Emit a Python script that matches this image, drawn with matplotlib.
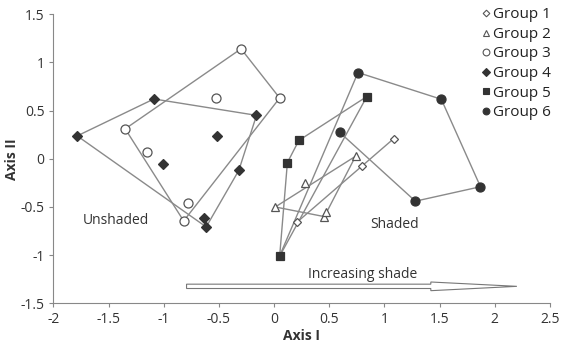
import matplotlib.pyplot as plt
from matplotlib.lines import Line2D

plt.rcParams['font.family'] = ['Open Sans', 'DejaVu Sans']

# points per group
g1_x = [0.21, 0.80, 1.085]
g1_y = [-0.655, -0.075, 0.21]
g2_x = [0.01, 0.276, 0.738, 0.455, 0.47]
g2_y = [-0.50, -0.25, 0.026, -0.60, -0.55]
g3_x = [-1.35, -0.30, 0.05, -0.53, -1.15, -0.78, -0.82]
g3_y = [0.31, 1.14, 0.63, 0.635, 0.07, -0.46, -0.645]
g4_x = [-1.785, -1.09, -0.16, -0.52, -1.01, -0.32, -0.637, -0.616]
g4_y = [0.237, 0.62, 0.45, 0.24, -0.057, -0.12, -0.614, -0.707]
g5_x = [0.84, 0.224, 0.12, 0.05]
g5_y = [0.645, 0.19, -0.04, -1.01]
g6_x = [0.76, 1.515, 0.593, 1.87, 1.28]
g6_y = [0.894, 0.617, 0.275, -0.29, -0.44]

# outline paths drawn round each group
h1_x = [0.21, 1.085]
h1_y = [-0.655, 0.21]
h2_x = [0.01, 0.738, 0.455, 0.01]
h2_y = [-0.50, 0.026, -0.60, -0.50]
h3_x = [-1.35, -0.30, 0.05, -0.82, -1.35]
h3_y = [0.31, 1.14, 0.63, -0.645, 0.31]
h4_x = [-1.785, -1.09, -0.16, -0.32, -0.616, -1.785]
h4_y = [0.237, 0.62, 0.45, -0.12, -0.707, 0.237]
h5_x = [0.05, 0.12, 0.224, 0.84, 0.05]
h5_y = [-1.01, -0.04, 0.19, 0.645, -1.01]
h6_x = [0.06, 0.76, 1.515, 1.87, 1.28, 0.593]
h6_y = [-0.98, 0.894, 0.617, -0.29, -0.44, 0.275]

labels = ['Group 1', 'Group 2', 'Group 3', 'Group 4', 'Group 5', 'Group 6']
xticks = [-2, -1.5, -1, -0.5, 0, 0.5, 1, 1.5, 2, 2.5]
yticks = [-1.5, -1, -0.5, 0, 0.5, 1, 1.5]

fig = plt.figure(figsize=(5.72, 3.44), dpi=100)
ax = fig.add_axes([0.0935, 0.118, 0.868, 0.841])

lc = '#8a8a8a'
for hx, hy in [(h1_x, h1_y), (h2_x, h2_y), (h3_x, h3_y), (h4_x, h4_y), (h5_x, h5_y), (h6_x, h6_y)]:
    ax.plot(hx, hy, color=lc, lw=1.0, zorder=1)

dark = '#333333'
opn = '#555555'
groups = [(g1_x, g1_y, 'D', 'white', opn, 4.5),
          (g2_x, g2_y, '^', 'white', opn, 6),
          (g3_x, g3_y, 'o', 'white', opn, 6.5),
          (g4_x, g4_y, 'D', dark, dark, 5),
          (g5_x, g5_y, 's', dark, dark, 6),
          (g6_x, g6_y, 'o', dark, dark, 6.5)]
handles = []
for (gx, gy, m, fc, ec, ms), lab in zip(groups, labels):
    ax.plot(gx, gy, ls='none', marker=m, mfc=fc, mec=ec, ms=ms, mew=0.9, zorder=3)
    handles.append(Line2D([], [], ls='none', marker=m, mfc=fc, mec=ec,
                          ms=ms * 0.75, mew=0.8, label=lab))

ax.legend(handles=handles, loc='upper right', bbox_to_anchor=(1.018, 1.05),
          frameon=False, fontsize=11, handletextpad=0.0, labelspacing=0.3,
          borderpad=0, handlelength=1.0, labelcolor='#222222')

ax.text(-1.43, -0.645, 'Unshaded', ha='center', va='center', fontsize=10, color='#333333')
ax.text(1.094, -0.68, 'Shaded', ha='center', va='center', fontsize=10, color='#333333')
ax.text(0.806, -1.20, 'Increasing shade', ha='center', va='center', fontsize=10, color='#333333')
ax.arrow(-0.794, -1.323, 2.994, 0, width=0.045, head_width=0.09, head_length=0.78,
         length_includes_head=True, fc='white', ec='#777777', lw=0.8, zorder=2)

ax.set_xlim(-2, 2.5)
ax.set_ylim(-1.5, 1.5)
ax.set_xticks(xticks)
ax.set_yticks(yticks)
ax.set_xticklabels(['%g' % t for t in xticks])
ax.set_yticklabels(['%g' % t for t in yticks])
for s in ['top', 'right']:
    ax.spines[s].set_visible(False)
for s in ['left', 'bottom']:
    ax.spines[s].set_color('#888888')
ax.tick_params(colors='#888888', labelcolor='#333333', labelsize=10, length=3, width=0.8)
ax.set_xlabel('Axis I', fontweight='bold', fontsize=10, color='#333333', labelpad=1)
ax.set_ylabel('Axis II', fontweight='bold', fontsize=10, color='#333333')
ax.yaxis.set_label_coords(-0.07, 0.5)

fig.savefig('out.png', dpi=100)
